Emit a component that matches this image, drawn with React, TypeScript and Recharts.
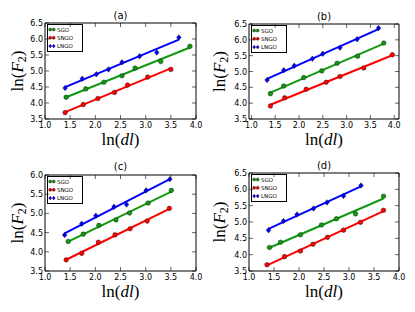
import { ComposedChart, Scatter, XAxis, YAxis, ReferenceArea, Legend } from "recharts";

// [ln(dl), ln(F2)] pairs
const A_SGO = [[1.42, 4.18], [1.81, 4.44], [2.17, 4.65], [2.53, 4.85], [2.79, 5.09], [3.30, 5.30], [3.88, 5.77]];
const A_SNGO = [[1.40, 3.70], [1.76, 3.95], [2.05, 4.14], [2.38, 4.33], [2.64, 4.56], [3.04, 4.81], [3.50, 5.05]];
const A_LNGO = [[1.40, 4.47], [1.74, 4.76], [2.02, 4.90], [2.26, 5.05], [2.53, 5.27], [2.88, 5.46], [3.22, 5.58], [3.66, 6.05]];

const B_SGO = [[1.40, 4.30], [1.68, 4.54], [2.10, 4.81], [2.48, 5.02], [2.80, 5.26], [3.23, 5.48], [3.78, 5.90]];
const B_SNGO = [[1.40, 3.91], [1.70, 4.17], [2.15, 4.44], [2.57, 4.66], [2.86, 4.84], [3.36, 5.11], [3.96, 5.53]];
const B_LNGO = [[1.33, 4.73], [1.68, 5.04], [1.90, 5.18], [2.28, 5.40], [2.50, 5.56], [2.86, 5.75], [3.22, 6.02], [3.67, 6.37]];

const C_SGO = [[1.46, 4.27], [1.76, 4.46], [2.07, 4.69], [2.41, 4.83], [2.68, 5.01], [3.05, 5.27], [3.51, 5.60]];
const C_SNGO = [[1.42, 3.79], [1.73, 3.96], [2.06, 4.25], [2.39, 4.44], [2.69, 4.60], [3.03, 4.80], [3.47, 5.13]];
const C_LNGO = [[1.39, 4.44], [1.73, 4.73], [2.01, 4.94], [2.37, 5.17], [2.62, 5.23], [3.01, 5.60], [3.48, 5.89]];

const D_SGO = [[1.41, 4.22], [1.63, 4.38], [2.03, 4.61], [2.45, 4.91], [2.75, 5.10], [3.13, 5.25], [3.69, 5.79]];
const D_SNGO = [[1.36, 3.69], [1.71, 3.94], [2.03, 4.11], [2.28, 4.32], [2.57, 4.53], [2.89, 4.75], [3.23, 4.99], [3.69, 5.36]];
const D_LNGO = [[1.39, 4.75], [1.69, 5.03], [1.96, 5.23], [2.29, 5.41], [2.56, 5.60], [2.89, 5.80], [3.24, 6.12]];

const SERIES = ["SGO", "SNGO", "LNGO"];
const X_TICKS = [1.0, 1.5, 2.0, 2.5, 3.0, 3.5, 4.0];
const Y_TICKS = [3.5, 4.0, 4.5, 5.0, 5.5, 6.0, 6.5];
const Y_TICKS_C = [3.5, 4.0, 4.5, 5.0, 5.5, 6.0];

const COLORS: Record<string, string> = { SGO: "#119a11", SNGO: "#ff0000", LNGO: "#0000ff" };
const FONT = "'DejaVu Sans', sans-serif";
const MATH = "'Liberation Serif', serif";

const toPts = (arr: number[][]) => arr.map(([x, y]) => ({ x, y }));

function marker(name: string, cx: number, cy: number, r: number) {
  const c = COLORS[name];
  if (name === "LNGO") {
    return <polygon points={`${cx},${cy - r * 1.2} ${cx + r},${cy} ${cx},${cy + r * 1.2} ${cx - r},${cy}`} fill={c} stroke="#000" strokeWidth={0.4} />;
  }
  return <circle cx={cx} cy={cy} r={r} fill={c} stroke="#000" strokeWidth={0.4} />;
}

const XTick = ({ x, y, payload, ph }: any) => (
  <g>
    <line x1={x} x2={x} y1={y} y2={y - 4} stroke="#000" strokeWidth={0.6} />
    <line x1={x} x2={x} y1={y - ph} y2={y - ph + 4} stroke="#000" strokeWidth={0.6} />
    <text x={x} y={y + 9} textAnchor="middle" fontSize={8} fontFamily={FONT} fill="#000">
      {Number(payload.value).toFixed(1)}
    </text>
  </g>
);

const YTick = ({ x, y, payload, pw }: any) => (
  <g>
    <line x1={x} x2={x + 4} y1={y} y2={y} stroke="#000" strokeWidth={0.6} />
    <line x1={x + pw} x2={x + pw - 4} y1={y} y2={y} stroke="#000" strokeWidth={0.6} />
    <text x={x - 2} y={y + 3} textAnchor="end" fontSize={8} fontFamily={FONT} fill="#000">
      {Number(payload.value).toFixed(1)}
    </text>
  </g>
);

const LegendBox = ({ payload }: any) => {
  const names = SERIES.filter((n) => (payload || []).some((e: any) => e.value === n));
  return (
    <svg width={36} height={28} style={{ display: "block" }}>
      {names.map((n, i) => {
        const yy = 5.5 + i * 8.3;
        return (
          <g key={n}>
            {marker(n, 3.2, yy, 1.5)}
            {marker(n, 6.7, yy, 1.5)}
            <text x={10} y={yy + 2} fontSize={5.5} fontFamily={FONT} fill="#000">{n}</text>
          </g>
        );
      })}
    </svg>
  );
};

function Panel({ box, plot, xDom, yDom, yTicks, sgo, sngo, lngo }: any) {
  const pw = box.w - plot.left - plot.right;
  const ph = box.h - plot.top - plot.bottom;
  const data: Record<string, number[][]> = { SGO: sgo, SNGO: sngo, LNGO: lngo };
  return (
    <div style={{ position: "absolute", left: box.x, top: box.y }}>
      <ComposedChart width={box.w} height={box.h} margin={{ top: plot.top, right: plot.right, bottom: plot.bottom - 15, left: plot.left - 20 }}>
        <XAxis type="number" dataKey="x" domain={xDom} ticks={X_TICKS} interval={0} allowDataOverflow
          height={15} tickSize={0} tickMargin={0} axisLine={false} tickLine={false} tick={<XTick ph={ph} />} />
        <YAxis type="number" dataKey="y" domain={yDom} ticks={yTicks} interval={0} allowDataOverflow
          width={20} tickSize={0} tickMargin={0} axisLine={false} tickLine={false} tick={<YTick pw={pw} />} />
        {SERIES.map((name) => (
          <Scatter key={name} name={name} data={toPts(data[name])} fill={COLORS[name]}
            line={{ stroke: COLORS[name], strokeWidth: 2 }} lineType="fitting"
            shape={(p: any) => marker(name, p.cx, p.cy, 2.3)} isAnimationActive={false} />
        ))}
        <ReferenceArea x1={xDom[0]} x2={xDom[1]} y1={yDom[0]} y2={yDom[1]} fill="none" fillOpacity={0}
          stroke="#000" strokeWidth={1} ifOverflow="visible" />
        <Legend layout="vertical" align="center" verticalAlign="middle" width={36} height={28}
          wrapperStyle={{ left: plot.left + 2, top: plot.top + 1 }} content={<LegendBox />} />
      </ComposedChart>
    </div>
  );
}

function Labels({ cx, titleY, title, xLabelY, yLabelX, cy, lx, ly }: any) {
  return (
    <g>
      <rect x={lx + 0.5} y={ly + 0.5} width={35} height={27} fill="none" stroke="#000" strokeWidth={1} />
      <text x={cx} y={titleY} textAnchor="middle" fontSize={10} fontFamily={FONT}>{title}</text>
      <text x={cx} y={xLabelY} textAnchor="middle" fontSize={17} fontFamily={MATH}>
        ln(<tspan fontStyle="italic">dl</tspan>)
      </text>
      <text x={yLabelX} y={cy} textAnchor="middle" fontSize={17} fontFamily={MATH} transform={`rotate(-90 ${yLabelX} ${cy})`}>
        ln(<tspan fontStyle="italic">F</tspan><tspan fontSize={12} dy={3}>2</tspan><tspan dy={-3}>)</tspan>
      </text>
    </g>
  );
}

export default function App() {
  return (
    <div style={{ position: "fixed", left: 0, top: 0, width: 415, height: 312, background: "#fff", fontFamily: FONT }}>
      <Panel box={{ x: 0, y: 0, w: 205, h: 156 }} plot={{ left: 45, top: 23, right: 9, bottom: 37 }}
        xDom={[1, 4]} yDom={[3.5, 6.5]} yTicks={Y_TICKS} sgo={A_SGO} sngo={A_SNGO} lngo={A_LNGO} />
      <Panel box={{ x: 205, y: 0, w: 210, h: 156 }} plot={{ left: 44, top: 24, right: 16, bottom: 37 }}
        xDom={[0.95, 4.1]} yDom={[3.5, 6.5]} yTicks={Y_TICKS} sgo={B_SGO} sngo={B_SNGO} lngo={B_LNGO} />
      <Panel box={{ x: 0, y: 150, w: 205, h: 162 }} plot={{ left: 45, top: 25, right: 9, bottom: 41 }}
        xDom={[1, 4]} yDom={[3.5, 6.0]} yTicks={Y_TICKS_C} sgo={C_SGO} sngo={C_SNGO} lngo={C_LNGO} />
      <Panel box={{ x: 205, y: 150, w: 210, h: 162 }} plot={{ left: 44, top: 23, right: 16, bottom: 41 }}
        xDom={[1, 4]} yDom={[3.5, 6.5]} yTicks={Y_TICKS} sgo={D_SGO} sngo={D_SNGO} lngo={D_LNGO} />
      <svg width={415} height={312} style={{ position: "absolute", left: 0, top: 0, pointerEvents: "none" }}>
        <Labels cx={120.5} titleY={19} title="(a)" xLabelY={145} yLabelX={23} cy={71} lx={47} ly={24} />
        <Labels cx={324} titleY={20} title="(b)" xLabelY={145} yLabelX={225} cy={71.5} lx={251} ly={25} />
        <Labels cx={120.5} titleY={170} title="(c)" xLabelY={297} yLabelX={23} cy={223} lx={47} ly={176} />
        <Labels cx={324} titleY={169} title="(d)" xLabelY={297} yLabelX={225} cy={222} lx={251} ly={174} />
      </svg>
    </div>
  );
}
